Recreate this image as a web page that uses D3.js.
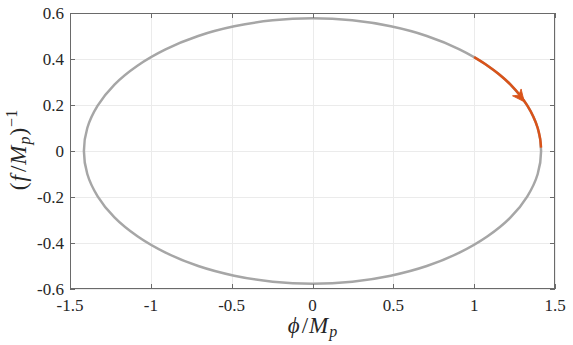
<!DOCTYPE html>
<html>
<head>
<meta charset="utf-8">
<script src="https://cdn.jsdelivr.net/npm/d3@7"></script>
<style>
  html, body { margin: 0; padding: 0; background: #fff; }
  svg { display: block; }
</style>
</head>
<body>
<svg id="chart" width="573" height="345"></svg>
<script>
// ---- data ----
const xTicks = [-1.5, -1, -0.5, 0, 0.5, 1, 1.5];
const yTicks = [-0.6, -0.4, -0.2, 0, 0.2, 0.4, 0.6];
const xTickLabels = ["-1.5", "-1", "-0.5", "0", "0.5", "1", "1.5"];
const yTickLabels = ["-0.6", "-0.4", "-0.2", "0", "0.2", "0.4", "0.6"];

// full closed orbit (grey)
const orbitX = [1.414, 1.393, 1.329, 1.225, 1.083, 0.909, 0.707, 0.484, 0.246, 0,
  -0.246, -0.484, -0.707, -0.909, -1.083, -1.225, -1.329, -1.393, -1.414,
  -1.393, -1.329, -1.225, -1.083, -0.909, -0.707, -0.484, -0.246, 0,
  0.246, 0.484, 0.707, 0.909, 1.083, 1.225, 1.329, 1.393];
const orbitY = [0, 0.100, 0.197, 0.289, 0.371, 0.442, 0.500, 0.542, 0.568, 0.577,
  0.568, 0.542, 0.500, 0.442, 0.371, 0.289, 0.197, 0.100, 0,
  -0.100, -0.197, -0.289, -0.371, -0.442, -0.500, -0.542, -0.568, -0.577,
  -0.568, -0.542, -0.500, -0.442, -0.371, -0.289, -0.197, -0.100];

// highlighted trajectory segment (orange)
const pathX = [1.000, 1.083, 1.150, 1.225, 1.285, 1.329, 1.366, 1.393, 1.408, 1.4137];
const pathY = [0.408, 0.371, 0.336, 0.289, 0.241, 0.197, 0.149, 0.100, 0.054, 0.015];

// arrow head: tip location and a preceding point giving its direction
const arrowTip = [1.31, 0.214];
const arrowFrom = [1.225, 0.289];

// ---- layout ----
const FONT = "'Liberation Serif', 'Times New Roman', serif";
const svg = d3.select("#chart");
const L = 70, T = 13, W = 485, H = 276;
const x = d3.scaleLinear().domain([-1.5, 1.5]).range([L, L + W]);
const y = d3.scaleLinear().domain([-0.6, 0.6]).range([T + H, T]);

const axisColor = "#6a6a6a";
const gridColor = "#ebebeb";
const tickLen = 5;

// grid
const g = svg.append("g");
g.selectAll("line.gx").data(xTicks).join("line")
  .attr("x1", d => Math.round(x(d)) + 0.5).attr("x2", d => Math.round(x(d)) + 0.5)
  .attr("y1", T).attr("y2", T + H)
  .attr("stroke", gridColor).attr("stroke-width", 1);
g.selectAll("line.gy").data(yTicks).join("line")
  .attr("y1", d => Math.round(y(d)) + 0.5).attr("y2", d => Math.round(y(d)) + 0.5)
  .attr("x1", L).attr("x2", L + W)
  .attr("stroke", gridColor).attr("stroke-width", 1);

// curves
const orbit = orbitX.map((v, i) => [v, orbitY[i]]);
const path = pathX.map((v, i) => [v, pathY[i]]);

svg.append("path")
  .datum(orbit)
  .attr("d", d3.line().x(d => x(d[0])).y(d => y(d[1])).curve(d3.curveCatmullRomClosed.alpha(0.5)))
  .attr("fill", "none").attr("stroke", "#a6a6a6").attr("stroke-width", 2.5);

svg.append("path")
  .datum(path)
  .attr("d", d3.line().x(d => x(d[0])).y(d => y(d[1])).curve(d3.curveCatmullRom.alpha(0.5)))
  .attr("fill", "none").attr("stroke", "#d95319").attr("stroke-width", 2.5);

// arrow head
const tx = x(arrowTip[0]), ty = y(arrowTip[1]);
const ang = Math.atan2(ty - y(arrowFrom[1]), tx - x(arrowFrom[0])) * 180 / Math.PI;
svg.append("path")
  .attr("d", "M0,0 L-12,-5.5 L-8.5,0 L-12,5.5 Z")
  .attr("transform", `translate(${tx},${ty}) rotate(${ang})`)
  .attr("fill", "#d95319").attr("stroke", "#d95319").attr("stroke-width", 0.8)
  .attr("stroke-linejoin", "miter");

// axes frame
const ax = svg.append("g").attr("stroke", axisColor).attr("stroke-width", 1).attr("fill", "none");
ax.append("rect").attr("x", L + 0.5).attr("y", T + 0.5).attr("width", W - 1).attr("height", H - 1);
xTicks.forEach(d => {
  const px = Math.round(x(d)) + 0.5;
  ax.append("line").attr("x1", px).attr("x2", px).attr("y1", T + H).attr("y2", T + H - tickLen);
  ax.append("line").attr("x1", px).attr("x2", px).attr("y1", T).attr("y2", T + tickLen);
});
yTicks.forEach(d => {
  const py = Math.round(y(d)) + 0.5;
  ax.append("line").attr("y1", py).attr("y2", py).attr("x1", L).attr("x2", L + tickLen);
  ax.append("line").attr("y1", py).attr("y2", py).attr("x1", L + W).attr("x2", L + W - tickLen);
});

// tick labels
svg.append("g").selectAll("text").data(xTicks).join("text")
  .attr("x", d => x(d)).attr("y", T + H + 22)
  .attr("text-anchor", "middle").attr("font-size", 17)
  .attr("font-family", FONT).attr("fill", "#262626")
  .text((d, i) => xTickLabels[i]);
svg.append("g").selectAll("text").data(yTicks).join("text")
  .attr("x", L - 6).attr("y", d => y(d) + 5.5)
  .attr("text-anchor", "end").attr("font-size", 17)
  .attr("font-family", FONT).attr("fill", "#262626")
  .text((d, i) => yTickLabels[i]);

// x label: φ/M_p
const xl = svg.append("text")
  .attr("x", x(0)).attr("y", 333).attr("text-anchor", "middle").attr("font-size", 23)
  .attr("font-family", FONT).attr("fill", "#262626");
xl.append("tspan").attr("font-style", "italic").text("\u03D5");
xl.append("tspan").attr("dx", 2).text("/");
xl.append("tspan").attr("dx", 1).attr("font-style", "italic").text("M");
xl.append("tspan").attr("dx", 1).attr("font-style", "italic").attr("font-size", 16).attr("dy", 4).text("p");

// y label: (f/M_p)^{-1}
const yl = svg.append("text")
  .attr("transform", `translate(26,${y(0) - 1}) rotate(-90)`)
  .attr("text-anchor", "middle").attr("font-size", 23)
  .attr("font-family", FONT).attr("fill", "#262626");
yl.append("tspan").text("(");
yl.append("tspan").attr("dx", 1).attr("font-style", "italic").text("f");
yl.append("tspan").attr("dx", 3).text("/");
yl.append("tspan").attr("dx", 1).attr("font-style", "italic").text("M");
yl.append("tspan").attr("dx", 1).attr("font-style", "italic").attr("font-size", 16).attr("dy", 4).text("p");
yl.append("tspan").attr("dx", 1).attr("dy", -4).text(")");
yl.append("tspan").attr("dx", 1).attr("font-size", 16).attr("dy", -9).text("\u22121");
</script>
</body>
</html>
